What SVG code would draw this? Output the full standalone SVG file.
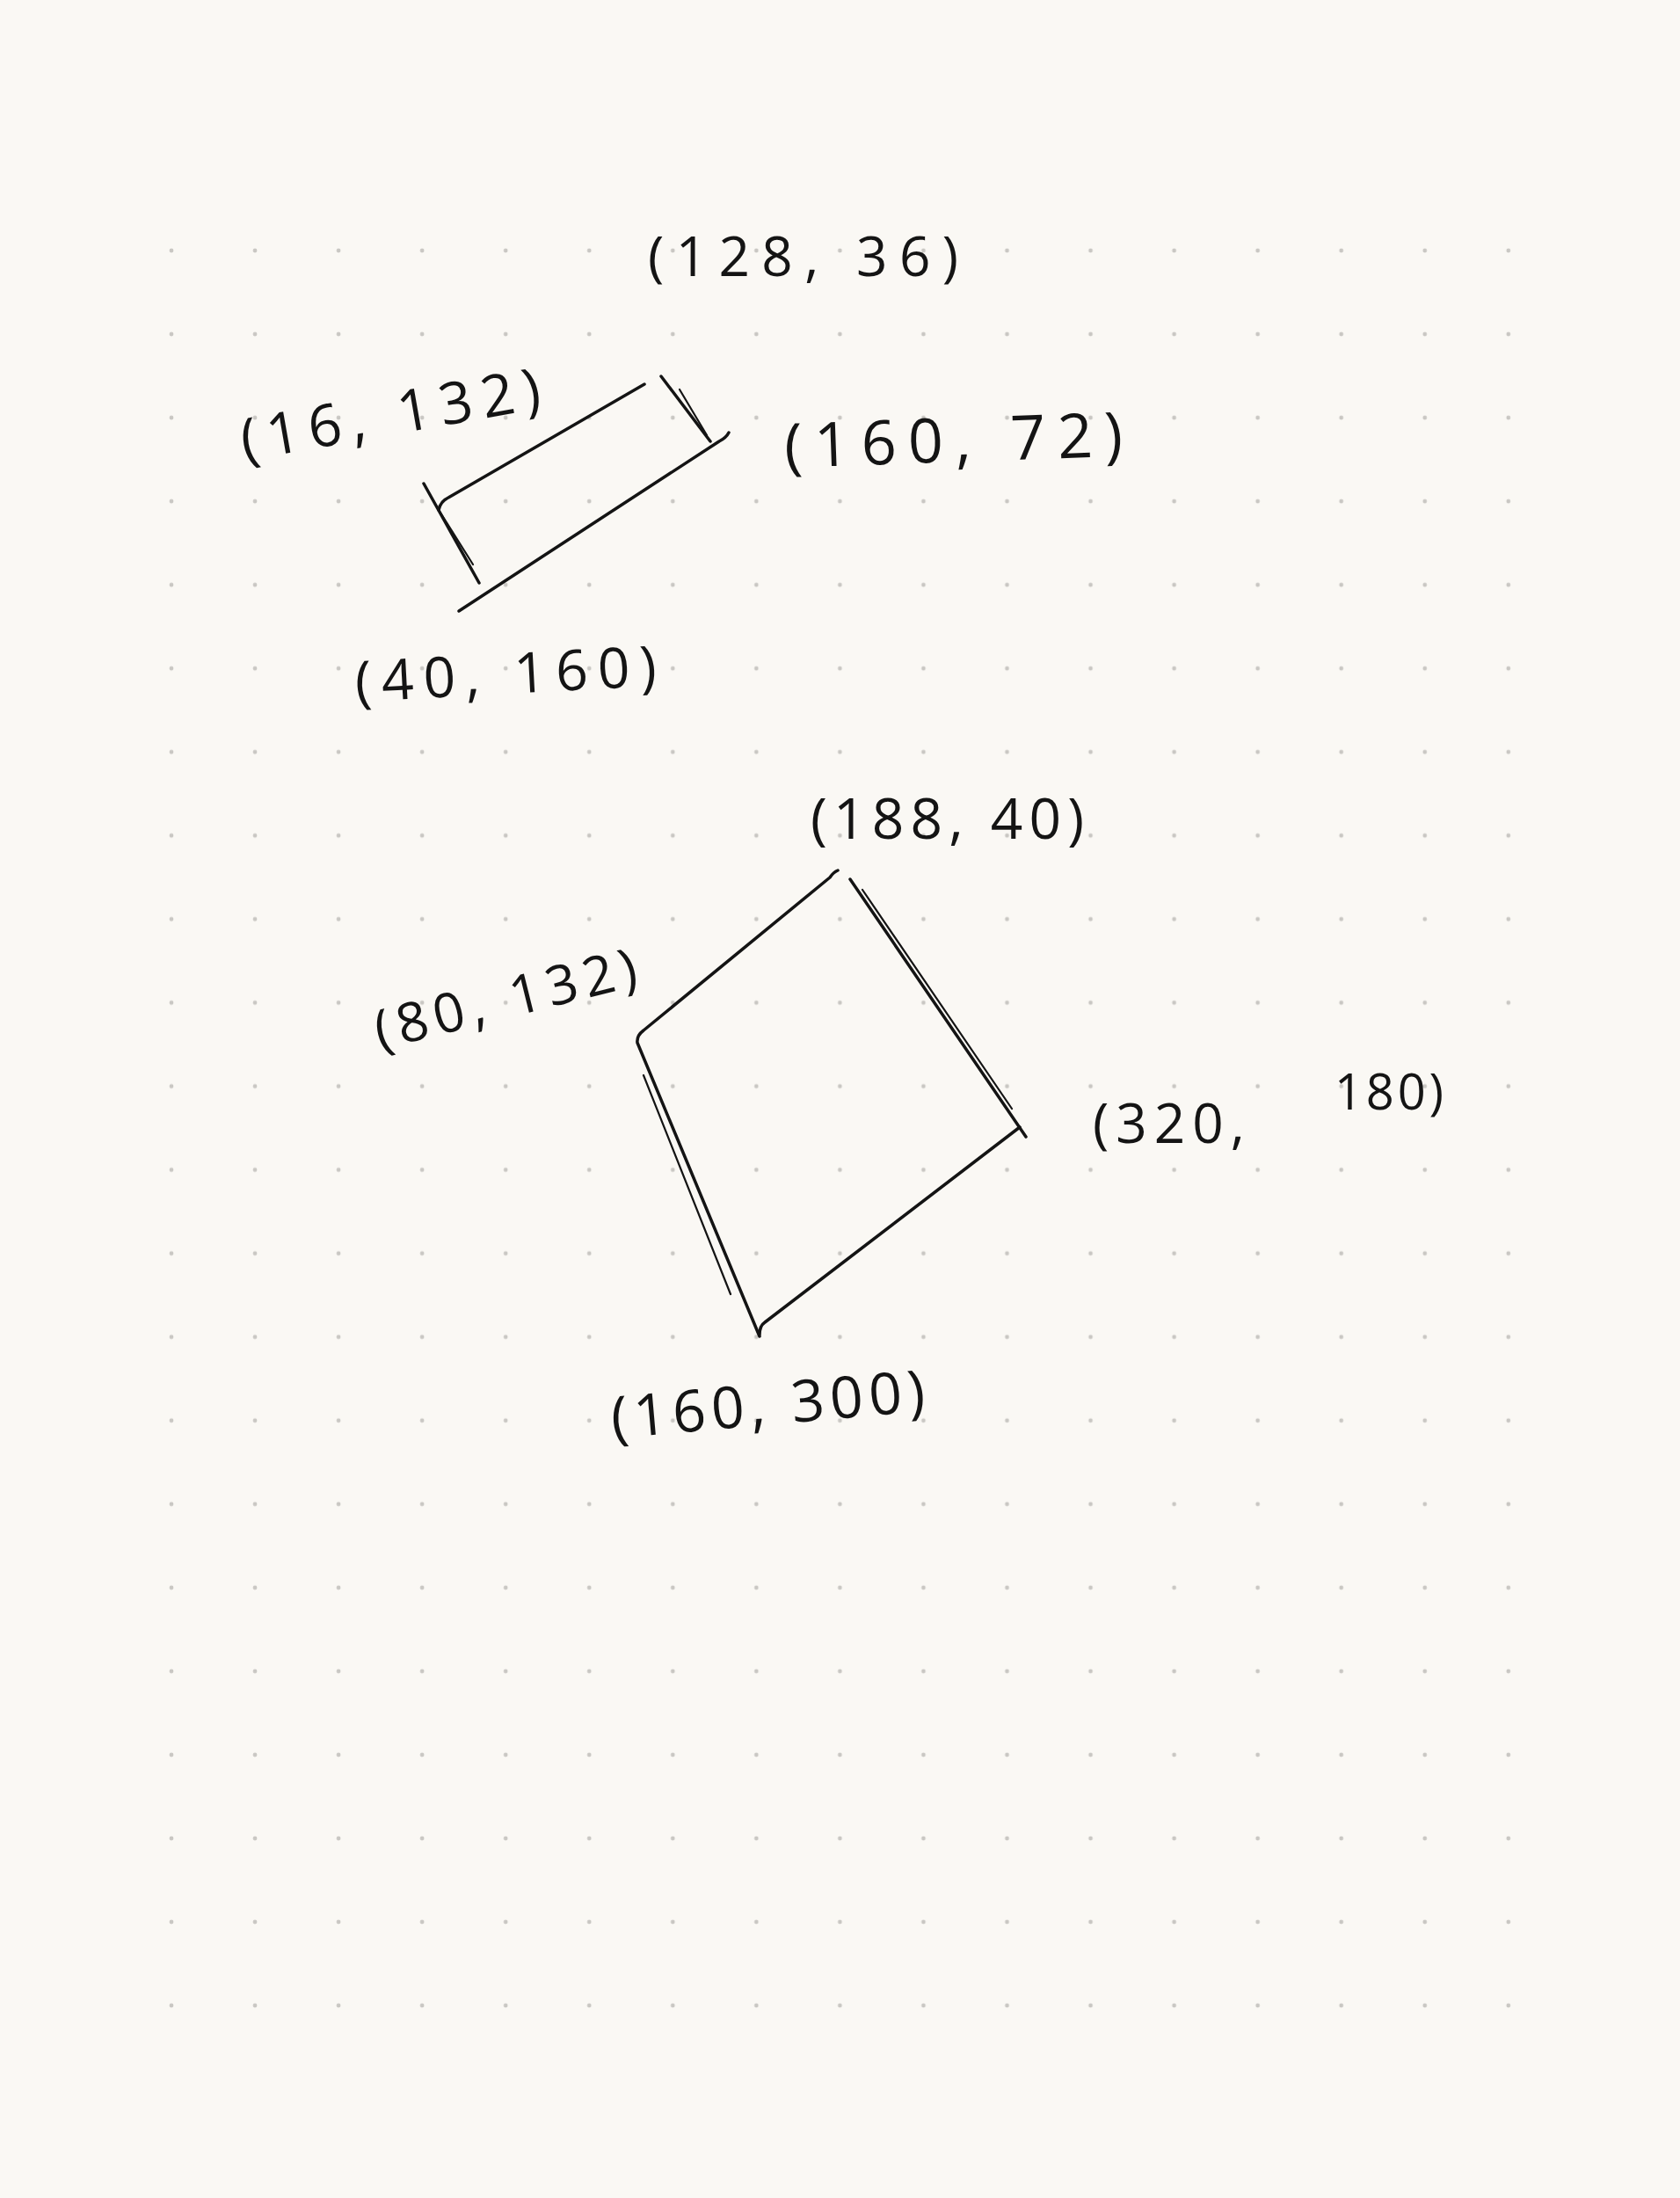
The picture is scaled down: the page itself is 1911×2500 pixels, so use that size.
<svg xmlns="http://www.w3.org/2000/svg" width="1911" height="2500" viewBox="0 0 1911 2500">
<style>
  .ink { fill: none; stroke: #141414; stroke-width: 3.5; stroke-linecap: round; stroke-linejoin: round; }
  .thin { fill: none; stroke: #141414; stroke-width: 2.2; stroke-linecap: round; }
  .lbl { font-family: "Open Sans", "Roboto", "Liberation Sans", sans-serif; font-weight: 400; fill: #141414; }
</style>
<defs>
  <pattern id="dots" patternUnits="userSpaceOnUse" x="147.5" y="237.5" width="95.05" height="95.05">
    <circle cx="47.5" cy="47.5" r="2.4" fill="#c9c7c3"/>
  </pattern>
</defs>
<rect x="0" y="0" width="1911" height="2500" fill="#faf8f4"/>
<rect x="147.5" y="237.5" width="1616" height="2092" fill="url(#dots)"/>

<g id="shape1">
  <path class="ink" d="M499 580 Q501 570 510 566 L733 437"/>
  <path class="ink" d="M482 550 L545 663"/>
  <path class="thin" d="M499 580 L538 642"/>
  <path class="ink" d="M829 492 Q826 498 818 502 L522 695"/>
  <path class="ink" d="M752 428 L808 502"/>
  <path class="thin" d="M773 443 L804 495"/>
</g>

<g id="shape2">
  <path class="ink" d="M953 990 Q948 992 944 998 L732 1172 Q724 1178 725 1186 L864 1520"/>
  <path class="thin" d="M732 1223 L831 1472"/>
  <path class="ink" d="M864 1518 Q864 1508 870 1504 L1160 1282"/>
  <path class="ink" d="M967 1000 L1167 1293"/>
  <path class="thin" d="M981 1012 L1151 1261"/>
</g>

<g id="labels">
  <g id="label-128-36"><text class="lbl" x="737" y="314" font-size="62" textLength="353" lengthAdjust="spacing">(128, 36)</text></g>
  <g id="label-16-132"><text class="lbl" x="278" y="524" font-size="66" textLength="345" lengthAdjust="spacing" transform="rotate(-10 278 524)">(16, 132)</text></g>
  <g id="label-160-72"><text class="lbl" x="893" y="532" font-size="70" textLength="385" lengthAdjust="spacing" transform="rotate(-2 893 532)">(160, 72)</text></g>
  <g id="label-40-160"><text class="lbl" x="405" y="798" font-size="64" textLength="343" lengthAdjust="spacing" transform="rotate(-3 405 798)">(40, 160)</text></g>
  <g id="label-188-40"><text class="lbl" x="922" y="954" font-size="64" textLength="311" lengthAdjust="spacing">(188, 40)</text></g>
  <g id="label-80-132"><text class="lbl" x="432" y="1194" font-size="62" textLength="305" lengthAdjust="spacing" transform="rotate(-14 432 1194)">(80, 132)</text></g>
  <g id="label-320-180"><text class="lbl" font-size="62"><tspan x="1243" y="1300" textLength="197" lengthAdjust="spacing">(320, </tspan><tspan x="1518" y="1262" font-size="56" textLength="124" lengthAdjust="spacing">180)</tspan></text></g>
  <g id="label-160-300"><text class="lbl" x="697" y="1636" font-size="66" textLength="358" lengthAdjust="spacing" transform="rotate(-5 697 1636)">(160, 300)</text></g>
</g>
</svg>
